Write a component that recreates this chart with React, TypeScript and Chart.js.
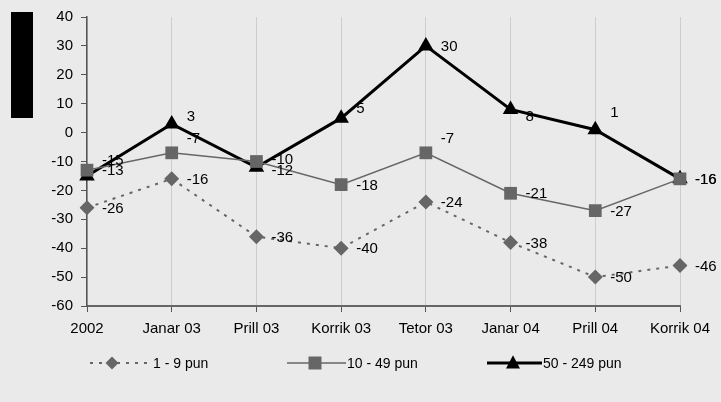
import React, { useEffect, useRef } from "react";
import { Chart, registerables } from "chart.js";

Chart.register(...registerables);

const categories = ["2002", "Janar 03", "Prill 03", "Korrik 03", "Tetor 03", "Janar 04", "Prill 04", "Korrik 04"];
const series1Label = "1 - 9 pun";
const series2Label = "10 - 49 pun";
const series3Label = "50 - 249 pun";
const series1 = [-26, -16, -36, -40, -24, -38, -50, -46];
const series2 = [-13, -7, -10, -18, -7, -21, -27, -16];
const series3 = [-15, 3, -12, 5, 30, 8, 1, -16];
const yMin = -60;
const yMax = 40;
const yStep = 10;

const FONT = "'Liberation Sans', Arial, sans-serif";

// vertical nudges (px) of individual value labels, keyed "dataset:index"
const labelNudge: Record<string, number> = {
  "2:0": -16,
  "2:1": -8,
  "2:3": -10,
  "2:5": 6,
  "2:6": -18,
  "1:1": -15,
  "1:4": -15,
  "2:2": 3,
  "1:2": -3,
};

const bgPlugin = {
  id: "bg",
  beforeDraw(chart: any) {
    const { ctx, width, height } = chart;
    ctx.save();
    ctx.fillStyle = "#EAEAEA";
    ctx.fillRect(0, 0, width, height);
    ctx.fillStyle = "#000000";
    ctx.fillRect(11, 12, 22, 106);
    ctx.restore();
  },
};

const labelPlugin = {
  id: "valueLabels",
  afterDatasetsDraw(chart: any) {
    const { ctx } = chart;
    ctx.save();
    ctx.font = `15px ${FONT}`;
    ctx.fillStyle = "#000";
    ctx.textAlign = "left";
    ctx.textBaseline = "middle";
    chart.data.datasets.forEach((ds: any, i: number) => {
      const meta = chart.getDatasetMeta(i);
      meta.data.forEach((pt: any, j: number) => {
        const dy = labelNudge[`${i}:${j}`] || 0;
        ctx.fillText(String(ds.data[j]), pt.x + 15, pt.y + 1 + dy);
      });
    });
    ctx.restore();
  },
};

function drawMarker(ctx: CanvasRenderingContext2D, style: string, x: number, y: number, r: number, color: string) {
  ctx.save();
  ctx.fillStyle = color;
  ctx.beginPath();
  if (style === "rectRot") {
    ctx.moveTo(x, y - r);
    ctx.lineTo(x + r, y);
    ctx.lineTo(x, y + r);
    ctx.lineTo(x - r, y);
  } else if (style === "rect") {
    ctx.rect(x - r, y - r, 2 * r, 2 * r);
  } else {
    ctx.moveTo(x, y - r * 1.1);
    ctx.lineTo(x + r, y + r * 0.8);
    ctx.lineTo(x - r, y + r * 0.8);
  }
  ctx.closePath();
  ctx.fill();
  ctx.restore();
}

const legendPlugin = {
  id: "customLegend",
  afterDraw(chart: any) {
    const { ctx } = chart;
    const y = 363;
    const items = [
      { x0: 90, x1: 150, mx: 112, tx: 153, ds: chart.data.datasets[0], r: 6.5 },
      { x0: 287, x1: 346, mx: 315, tx: 347, ds: chart.data.datasets[1], r: 6.5 },
      { x0: 487, x1: 542, mx: 513, tx: 543, ds: chart.data.datasets[2], r: 7 },
    ];
    ctx.save();
    items.forEach((it) => {
      ctx.strokeStyle = it.ds.borderColor;
      ctx.lineWidth = it.ds.borderWidth;
      ctx.setLineDash(it.ds.borderDash || []);
      ctx.beginPath();
      ctx.moveTo(it.x0, y);
      ctx.lineTo(it.x1, y);
      ctx.stroke();
      ctx.setLineDash([]);
      drawMarker(ctx, it.ds.pointStyle, it.mx, y, it.r, it.ds.pointBackgroundColor);
      ctx.font = `14px ${FONT}`;
      ctx.fillStyle = "#000";
      ctx.textAlign = "left";
      ctx.textBaseline = "middle";
      ctx.fillText(it.ds.label, it.tx, y + 1);
    });
    ctx.restore();
  },
};

export default function App() {
  const ref = useRef<HTMLCanvasElement | null>(null);
  useEffect(() => {
    document.body.style.margin = "0";
    const canvas = ref.current!;
    const chart = new Chart(canvas, {
      type: "line",
      data: {
        labels: categories,
        datasets: [
          {
            label: series1Label,
            data: series1,
            borderColor: "#666666",
            borderWidth: 2,
            borderDash: [3, 6],
            pointStyle: "rectRot",
            pointRadius: 7.5,
            pointBackgroundColor: "#666666",
            pointBorderColor: "#666666",
            pointBorderWidth: 0,
            tension: 0,
          },
          {
            label: series2Label,
            data: series2,
            borderColor: "#666666",
            borderWidth: 1.5,
            pointStyle: "rect",
            pointRadius: 9,
            pointBackgroundColor: "#666666",
            pointBorderColor: "#666666",
            pointBorderWidth: 0,
            tension: 0,
          },
          {
            label: series3Label,
            data: series3,
            borderColor: "#000000",
            borderWidth: 3,
            pointStyle: "triangle",
            pointRadius: 9,
            pointBackgroundColor: "#000000",
            pointBorderColor: "#000000",
            pointBorderWidth: 0,
            tension: 0,
          },
        ],
      },
      options: {
        animation: false,
        responsive: false,
        maintainAspectRatio: false,
        layout: { padding: { left: 0, right: 41, top: 17, bottom: 0 } },
        plugins: { legend: { display: false }, tooltip: { enabled: false } },
        scales: {
          x: {
            offset: false,
            grid: {
              display: true,
              drawOnChartArea: true,
              color: "#CDCDCD",
              tickColor: "#555555",
              tickLength: 6,
              offset: false,
            },
            border: { display: true, color: "#666666", width: 2 },
            ticks: { color: "#000", font: { family: FONT, size: 15 }, padding: 8, maxRotation: 0, autoSkip: false },
            afterFit: (s: any) => {
              s.height = 402 - 306;
            },
          },
          y: {
            min: yMin,
            max: yMax,
            ticks: { stepSize: yStep, color: "#000", font: { family: FONT, size: 15 }, padding: 8 },
            grid: { display: true, drawOnChartArea: false, tickColor: "#555555", tickLength: 6 },
            border: { display: true, color: "#555555", width: 1.5 },
            afterFit: (s: any) => {
              s.width = 87;
            },
          },
        },
      },
      plugins: [bgPlugin, labelPlugin, legendPlugin],
    });
    return () => chart.destroy();
  }, []);
  return (
    <div style={{ width: 721, height: 402 }}>
      <canvas ref={ref} width={721} height={402} style={{ display: "block" }} />
    </div>
  );
}
